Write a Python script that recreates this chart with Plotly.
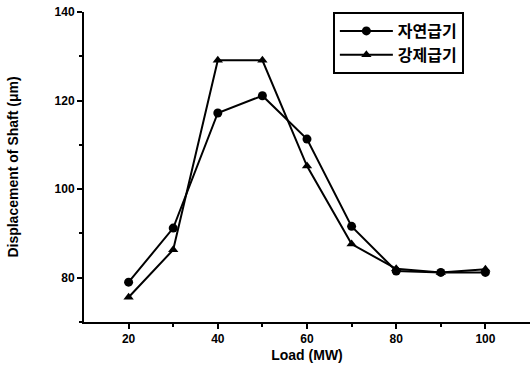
import plotly.graph_objects as go

load = [20, 30, 40, 50, 60, 70, 80, 90, 100]
natural = [79.0, 91.2, 117.2, 121.1, 111.3, 91.6, 81.5, 81.2, 81.2]
forced = [75.6, 86.3, 129.1, 129.1, 105.2, 87.6, 82.0, 81.2, 81.9]
names = ["<b>자연급기</b>", "<b>강제급기</b>"]

fig = go.Figure()
fig.add_trace(go.Scatter(x=load, y=natural, name=names[0], mode="lines+markers",
                         line=dict(color="black", width=2),
                         marker=dict(symbol="circle", size=9, color="black")))
fig.add_trace(go.Scatter(x=load, y=forced, name=names[1], mode="lines+markers",
                         line=dict(color="black", width=2),
                         marker=dict(symbol="triangle-up", size=9, color="black")))

font = "Liberation Sans, Arial, sans-serif"
fig.update_layout(
    width=532, height=374,
    margin=dict(l=84, r=2, t=12, b=52, autoexpand=False),
    paper_bgcolor="white", plot_bgcolor="white",
    font=dict(family=font, color="black", size=11),
    showlegend=True,
    legend=dict(x=0.558, y=1.0, xanchor="left", yanchor="top",
                bordercolor="black", borderwidth=2, bgcolor="white",
                font=dict(size=16, family="Noto Sans CJK KR", color="black"),
                tracegroupgap=0, itemwidth=53),
    xaxis=dict(range=[10, 110], tickvals=[20, 40, 60, 80, 100], showgrid=False, zeroline=False,
               automargin=False, ticklabeloverflow="allow",
               showline=True, linecolor="black", linewidth=2, ticks="outside", ticklen=5,
               tickwidth=2, tickcolor="black",
               tickfont=dict(size=12, family=font, weight="bold"),
               minor=dict(tickvals=[30, 50, 70, 90], ticks="outside", ticklen=3, tickwidth=1.5, tickcolor="black"),
               title=dict(text="<b>Load (MW)</b>", font=dict(size=14), standoff=5)),
    yaxis=dict(range=[70, 140], tickvals=[80, 100, 120, 140], showgrid=False, zeroline=False,
               automargin=False, ticklabeloverflow="allow",
               showline=True, linecolor="black", linewidth=2, ticks="outside", ticklen=5,
               tickwidth=2, tickcolor="black",
               tickfont=dict(size=12, family=font, weight="bold"),
               minor=dict(tickvals=[70, 90, 110, 130], ticks="outside", ticklen=3, tickwidth=1.5, tickcolor="black"),
               title=dict(text="<b>Displacement of Shaft (μm)</b>", font=dict(size=14), standoff=33)),
)
fig.write_html("out.html", config={"displayModeBar": False},
               post_script="document.body.style.margin='0px';")
